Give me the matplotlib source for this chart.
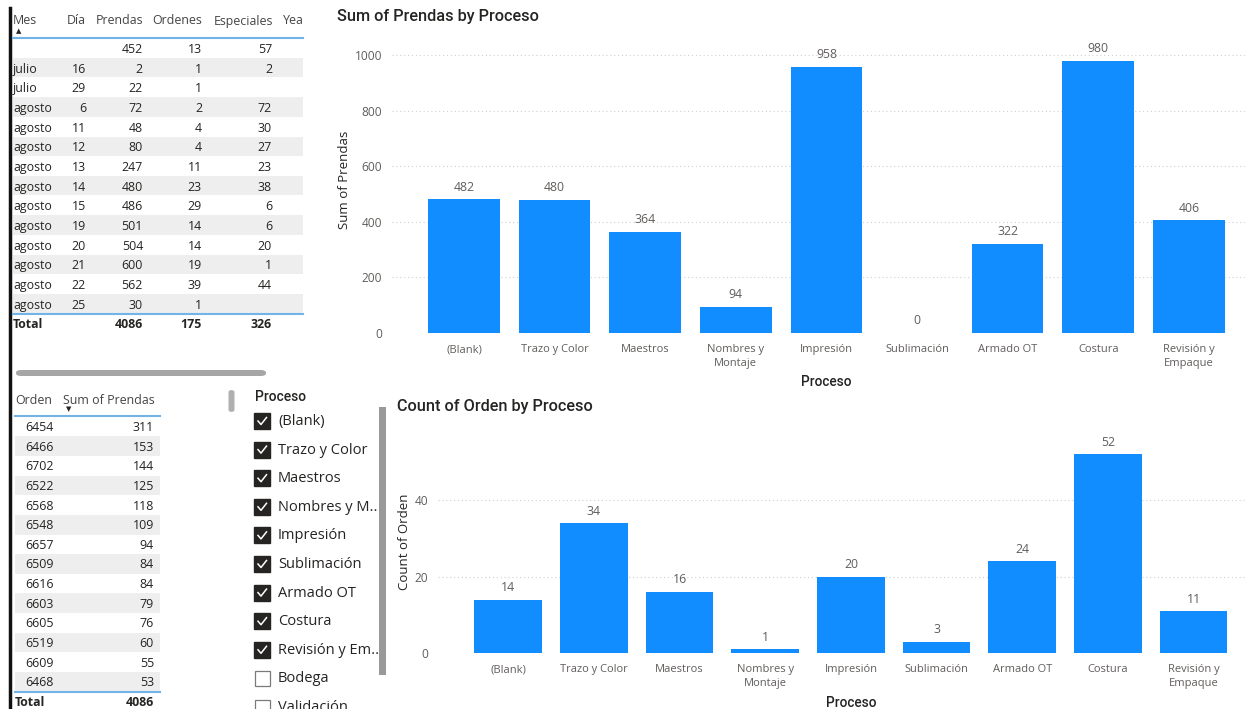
import numpy as np
import matplotlib
matplotlib.use('Agg')
import matplotlib.pyplot as plt
from matplotlib.patches import Rectangle, FancyBboxPatch
from matplotlib.lines import Line2D

plt.rcParams['font.family'] = ['Open Sans', 'DejaVu Sans']

# --- data ---
mes = ['', 'julio', 'julio', 'agosto', 'agosto', 'agosto', 'agosto', 'agosto',
       'agosto', 'agosto', 'agosto', 'agosto', 'agosto', 'agosto']
dia = ['', 16, 29, 6, 11, 12, 13, 14, 15, 19, 20, 21, 22, 25]
prendas = [452, 2, 22, 72, 48, 80, 247, 480, 486, 501, 504, 600, 562, 30]
ordenes = [13, 1, 1, 2, 4, 4, 11, 23, 29, 14, 14, 19, 39, 1]
especiales = [57, 2, None, 72, 30, 27, 23, 38, 6, 6, 20, 1, 44, None]
tot_prendas, tot_ordenes, tot_especiales = 4086, 175, 326

orden = [6454, 6466, 6702, 6522, 6568, 6548, 6657, 6509, 6616, 6603, 6605, 6519, 6609, 6468]
orden_prendas = [311, 153, 144, 125, 118, 109, 94, 84, 84, 79, 76, 60, 55, 53]
orden_total = 4086

slicer_items = ['(Blank)', 'Trazo y Color', 'Maestros', 'Nombres y M..', 'Impresión',
                'Sublimación', 'Armado OT', 'Costura', 'Revisión y Em..', 'Bodega', 'Validación']
slicer_checked = [True] * 9 + [False] * 2

procesos = ['(Blank)', 'Trazo y Color', 'Maestros', 'Nombres y\nMontaje', 'Impresión',
            'Sublimación', 'Armado OT', 'Costura', 'Revisión y\nEmpaque']
sum_prendas = [482, 480, 364, 94, 958, 0, 322, 980, 406]
count_orden = [14, 34, 16, 1, 20, 3, 24, 52, 11]

W, H = 1248, 709
BLUE = '#118DFF'
DARK = '#252423'
GRAY = '#605E5C'
LINE_BLUE = '#72B4E6'
STRIPE = '#EEEEEE'
FS = 8.9

fig = plt.figure(figsize=(W / 100, H / 100), dpi=100)
fig.patch.set_facecolor('white')


def T(x, y, s, **kw):
    kw.setdefault('va', 'center')
    kw.setdefault('color', DARK)
    return fig.text(x / W, 1 - y / H, s, **kw)


def rect(x, y, w, h, **kw):
    fig.add_artist(Rectangle((x / W, 1 - (y + h) / H), w / W, h / H,
                             transform=fig.transFigure, **kw))


def hline(x0, x1, y, **kw):
    fig.add_artist(Line2D([x0 / W, x1 / W], [1 - y / H, 1 - y / H],
                          transform=fig.transFigure, **kw))


def vline(x, y0, y1, **kw):
    fig.add_artist(Line2D([x / W, x / W], [1 - y0 / H, 1 - y1 / H],
                          transform=fig.transFigure, **kw))


def bar_chart(box, values, ylim, yticks, xlim, title, tpos, ylabel, ypos, xpos):
    x0, y0, x1, y1 = box
    ax = fig.add_axes([x0 / W, 1 - y1 / H, (x1 - x0) / W, (y1 - y0) / H])
    xs = np.arange(len(procesos))
    bars = ax.bar(xs, values, width=0.79, color=BLUE, zorder=3)
    ax.bar_label(bars, padding=4, color=GRAY, fontsize=8.8)
    ax.set_xlim(*xlim)
    ax.set_ylim(*ylim)
    ax.set_yticks(yticks)
    ax.set_xticks(xs)
    ax.set_xticklabels(procesos, linespacing=1.35)
    ax.tick_params(length=0, labelsize=8, labelcolor=GRAY)
    ax.tick_params(axis='y', pad=7, labelsize=8.6)
    ax.tick_params(axis='x', pad=8)
    for s in ax.spines.values():
        s.set_visible(False)
    ax.grid(axis='y', color='#CFCFCF', linestyle=(0, (1, 2.5)), linewidth=0.8, zorder=0)
    T(tpos[0], tpos[1], title, family=['Roboto', 'DejaVu Sans'], weight='medium',
      fontsize=11.7, color=DARK)
    T(ypos[0], ypos[1], ylabel, rotation=90, ha='center', fontsize=9.5, color=DARK)
    T(xpos[0], xpos[1], 'Proceso', ha='center', family=['Roboto', 'DejaVu Sans'],
      weight='medium', fontsize=9.8, color=DARK)
    return ax


# --- top-left table ---
vline(10, 8, 709, color='#111111', linewidth=2.5)
hdr_y = 21
T(13, hdr_y, 'Mes', fontsize=FS, color='#444444')
T(16, 31, '▲', fontsize=5, color=DARK, family='DejaVu Sans')
T(86, hdr_y, 'Día', ha='right', fontsize=FS, color='#444444')
T(143, hdr_y, 'Prendas', ha='right', fontsize=FS, color='#444444')
T(202, hdr_y, 'Ordenes', ha='right', fontsize=FS, color='#444444')
T(273, hdr_y, 'Especiales', ha='right', fontsize=FS, color='#444444')
T(283, hdr_y, 'Yea', fontsize=FS, color='#444444')
hline(13, 303, 38, color=LINE_BLUE, linewidth=1.5)
for i in range(len(prendas)):
    yc = 48 + 19.67 * i
    if i % 2 == 1:
        rect(13, yc - 9.8, 290, 19.6, facecolor=STRIPE, edgecolor='none')
    ty = yc + 1.5
    T(13, ty, mes[i], fontsize=FS)
    T(86, ty, str(dia[i]), ha='right', fontsize=FS)
    T(143, ty, str(prendas[i]), ha='right', fontsize=FS)
    T(202, ty, str(ordenes[i]), ha='right', fontsize=FS)
    if especiales[i] is not None:
        T(272, ty, str(especiales[i]), ha='right', fontsize=FS)
hline(13, 303, 314, color=LINE_BLUE, linewidth=1.5)
T(13, 325, 'Total', fontsize=FS, weight='bold')
T(143, 325, str(tot_prendas), ha='right', fontsize=FS, weight='bold')
T(202, 325, str(tot_ordenes), ha='right', fontsize=FS, weight='bold')
T(272, 325, str(tot_especiales), ha='right', fontsize=FS, weight='bold')

# horizontal scrollbar
fig.add_artist(FancyBboxPatch((16 / W, 1 - 376 / H), 250 / W, 6 / H,
                              boxstyle='round,pad=0,rounding_size=0.004',
                              transform=fig.transFigure, facecolor='#A6A6A6',
                              edgecolor='none'))

# --- bottom-left table ---
T(15, 400, 'Orden', fontsize=FS, color='#444444')
T(63, 400, 'Sum of Prendas', fontsize=FS, color='#444444')
T(66, 409, '▼', fontsize=5, color=DARK, family='DejaVu Sans')
hline(15, 160, 416, color=LINE_BLUE, linewidth=1.5)
for i in range(len(orden)):
    yc = 426.5 + 19.64 * i
    if i % 2 == 1:
        rect(15, yc - 9.8, 145, 19.6, facecolor=STRIPE, edgecolor='none')
    T(25, yc + 1, str(orden[i]), fontsize=FS)
    T(154, yc + 1, str(orden_prendas[i]), ha='right', fontsize=FS)
hline(15, 160, 692, color=LINE_BLUE, linewidth=1.5)
T(15, 703, 'Total', fontsize=FS, weight='bold')
T(154, 703, str(orden_total), ha='right', fontsize=FS, weight='bold')

# --- slicer ---
fig.add_artist(FancyBboxPatch((228.5 / W, 1 - 412 / H), 6 / W, 22 / H,
                              boxstyle='round,pad=0,rounding_size=0.003',
                              transform=fig.transFigure, facecolor='#B0B0B0',
                              edgecolor='none'))
T(255, 397, 'Proceso', family=['Roboto', 'DejaVu Sans'], weight='medium',
  fontsize=10, color=DARK)
for i, (item, chk) in enumerate(zip(slicer_items, slicer_checked)):
    yc = 421 + 28.6 * i
    if chk:
        rect(254, yc - 8, 16, 16, facecolor='#252423', edgecolor='#252423', linewidth=1)
        fig.add_artist(Line2D([258 / W, 261 / W, 266.5 / W],
                              [1 - yc / H, 1 - (yc + 3.5) / H, 1 - (yc - 3.5) / H],
                              transform=fig.transFigure, color='white', linewidth=1.1))
    else:
        rect(254.5, yc - 7.5, 15, 15, facecolor='white', edgecolor='#7A7A7A', linewidth=0.9)
    T(278, yc + 0.5, item, fontsize=10.5)
rect(379.5, 407, 7, 268, facecolor='#999999', edgecolor='none')

# --- top chart ---
bar_chart((392, 40, 1245, 333), sum_prendas, (0, 1055), [0, 200, 400, 600, 800, 1000],
          (-0.795, 8.62), 'Sum of Prendas by Proceso', (337, 17),
          'Sum of Prendas', (345, 180), (826, 382))

# --- bottom chart ---
bar_chart((438, 425, 1245, 653.3), count_orden, (0, 59.6), [0, 20, 40],
          (-0.82, 8.6), 'Count of Orden by Proceso', (397, 407),
          'Count of Orden', (405, 542), (851, 703))

fig.savefig('out.png', dpi=100)
